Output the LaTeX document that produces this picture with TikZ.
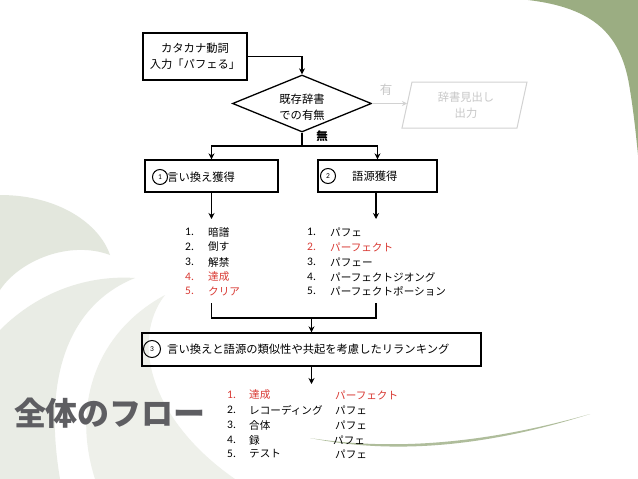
\documentclass[tikz,border=0pt]{standalone}
\usepackage{fontspec}
\setmainfont{Carlito}
\newfontfamily\jp{Noto Sans CJK JP}
\usetikzlibrary{shapes.geometric,arrows.meta}
\definecolor{leaf}{HTML}{9BAD82}
\definecolor{mist1}{HTML}{E3E7DD}
\definecolor{mist2}{HTML}{E9ECE5}
\definecolor{mist3}{HTML}{EEF0EA}
\definecolor{redtxt}{HTML}{D93A34}
\definecolor{ghost}{HTML}{C8C8C8}
\definecolor{ghostline}{HTML}{D2D2D2}
\definecolor{titlegray}{HTML}{5E5E62}
\begin{document}
\begin{tikzpicture}[x=1pt,y=-1pt,
  boxshape/.style={draw, line width=1.3pt, inner sep=0pt},
  conn/.style={line width=1.1pt},
  arr/.style={conn, -{Stealth[length=6pt,width=6pt]}},
  ghostarr/.style={line width=1pt, draw=ghostline, -{Stealth[length=5pt,width=5pt]}},
  jtext/.style={font=\jp\fontsize{11.3}{16}\selectfont, inner sep=0pt},
  numtext/.style={font=\fontsize{11.5}{13}\selectfont, anchor=west, inner sep=0pt},
  itemtext/.style={font=\jp\fontsize{10.6}{13}\selectfont, anchor=west, inner sep=0pt},
  circnum/.style={draw, circle, line width=1pt, inner sep=0pt, font=\fontsize{7.5}{8}\selectfont},
  ]
\useasboundingbox (0,0) rectangle (638,479);
\fill[white] (0,0) rectangle (638,479);
% background decorations
\fill[leaf] (528,0) .. controls (595,8) and (622,35) .. (630,90) .. controls (634,115) and (636,135) .. (638,155) -- (638,0) -- cycle;
\fill[mist1] (0,195) .. controls (60,195) and (100,225) .. (110,255) .. controls (70,240) and (20,260) .. (0,290) -- cycle;
\fill[mist2] (0,330) .. controls (40,290) and (90,275) .. (135,278) .. controls (80,300) and (40,360) .. (60,479) -- (0,479) -- cycle;
\fill[mist3] (95,479) .. controls (70,400) and (100,330) .. (165,295) .. controls (130,340) and (150,420) .. (235,479) -- cycle;
\fill[leaf!80!white] (310,438) .. controls (380,452) and (470,452) .. (590,414) .. controls (470,448) and (380,449) .. (310,438) -- cycle;

% title
\node[font=\jp\bfseries\fontsize{32}{35}\selectfont, text=titlegray, inner sep=0pt] (title) at (110,413) {全体のフロー};

% input box
\node[boxshape, minimum width=104pt, minimum height=47pt, align=center, jtext] (inp) at (195,56.5) {カタカナ動詞\\入力「パフェる」};
% decision
\node[draw, line width=1.3pt, diamond, aspect=2.44, minimum width=139pt, minimum height=57pt, inner sep=0pt] (dia) at (302,103.5) {};
\node[jtext, align=center] (diatext) at (302,107) {既存辞書\\での有無};
% output (ghost)
\draw[ghostline, line width=1pt] (402,128) -- (412,82) -- (527,82) -- (517,128) -- cycle;
\coordinate (outin) at (407,103.5);
\node[jtext, align=center, text=ghost] (outtext) at (466,105) {辞書見出し\\出力};
\node[font=\jp\fontsize{12.5}{14}\selectfont, text=ghost, inner sep=0pt] (yes) at (386,90) {有};
\node[font=\jp\bfseries\fontsize{11.5}{13}\selectfont, inner sep=0pt] (no) at (322,136) {無};

% step boxes
\node[boxshape, minimum width=133pt, minimum height=32pt] (b1) at (211.5,176) {};
\node[circnum, minimum size=15pt] (c1) at (160,177) {1};
\node[jtext, anchor=west] (t1) at (167,177) {言い換え獲得};
\node[boxshape, minimum width=119pt, minimum height=32pt] (b2) at (377.5,176) {};
\node[circnum, minimum size=15pt] (c2) at (328,176) {2};
\node[jtext, anchor=west] (t2) at (352,176) {語源獲得};
\node[boxshape, minimum width=339pt, minimum height=33pt] (b3) at (311.5,349.5) {};
\node[circnum, minimum size=17pt] (c3) at (152,349) {3};
\node[jtext, anchor=west] (t3) at (167,349) {言い換えと語源の類似性や共起を考慮したリランキング};

% connectors
\draw[arr] (inp.east) -| (dia.north);
\coordinate (j1) at (302,146);
\draw[conn] (dia.south) -- (j1);
\draw[arr] (j1) -| (b1.north);
\draw[arr] (j1) -| (b2.north);
\draw[ghostarr] (dia.east) -- (outin);
\coordinate (b2low) at (376,192);
\coordinate (l1in) at (211.5,219);
\coordinate (l2in) at (376,219);
\draw[arr] (b1.south) -- (l1in);
\draw[arr] (b2low) -- (l2in);
\coordinate (l1out) at (211.5,303);
\coordinate (l2out) at (376,303);
\coordinate (m) at (311.5,318);
\draw[conn] (l1out) -- (l1out |- m) -- (l2out |- m) -- (l2out);
\draw[arr] (m) -- (b3.north);
\coordinate (l3in) at (311.5,384);
\draw[arr] (b3.south) -- (l3in);

% list 1
\node[numtext] (n11) at (185,232) {1.};
\node[itemtext] (i11) at (208,232) {暗譜};
\node[numtext] (n12) at (185,247) {2.};
\node[itemtext] (i12) at (208,247) {倒す};
\node[numtext] (n13) at (185,262) {3.};
\node[itemtext] (i13) at (208,262) {解禁};
\node[numtext, text=redtxt] (n14) at (185,277) {4.};
\node[itemtext, text=redtxt] (i14) at (208,277) {達成};
\node[numtext, text=redtxt] (n15) at (185,291) {5.};
\node[itemtext, text=redtxt] (i15) at (208,291) {クリア};
% list 2
\node[numtext] (n21) at (307,232) {1.};
\node[itemtext] (i21) at (330,232) {パフェ};
\node[numtext, text=redtxt] (n22) at (307,247) {2.};
\node[itemtext, text=redtxt] (i22) at (330,247) {パーフェクト};
\node[numtext] (n23) at (307,262) {3.};
\node[itemtext] (i23) at (330,262) {パフェー};
\node[numtext] (n24) at (307,277) {4.};
\node[itemtext] (i24) at (330,277) {パーフェクトジオング};
\node[numtext] (n25) at (307,291) {5.};
\node[itemtext] (i25) at (330,291) {パーフェクトポーション};
% list 3
\node[numtext, text=redtxt] (n31) at (227,395) {1.};
\node[itemtext, text=redtxt] (i31) at (249,395) {達成};
\node[itemtext, text=redtxt] (k31) at (335,395) {パーフェクト};
\node[numtext] (n32) at (227,410) {2.};
\node[itemtext] (i32) at (249,410) {レコーディング};
\node[itemtext] (k32) at (335,410) {パフェ};
\node[numtext] (n33) at (227,425) {3.};
\node[itemtext] (i33) at (249,425) {合体};
\node[itemtext] (k33) at (335,425) {パフェ};
\node[numtext] (n34) at (227,440) {4.};
\node[itemtext] (i34) at (249,440) {録};
\node[itemtext] (k34) at (333,440) {パフェ};
\node[numtext] (n35) at (227,454) {5.};
\node[itemtext] (i35) at (249,454) {テスト};
\node[itemtext] (k35) at (335,454) {パフェ};
\end{tikzpicture}
\end{document}
